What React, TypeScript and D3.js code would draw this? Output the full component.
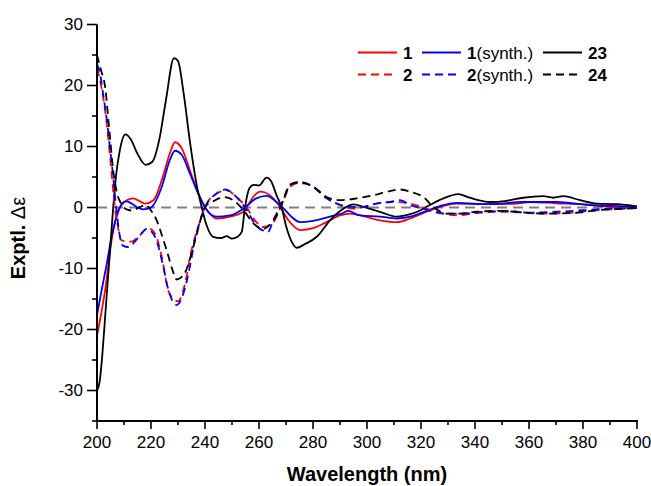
import React from 'react';
import * as d3 from 'd3';

// CD spectra: [wavelength nm, delta epsilon]
const cmp1: [number, number][] = [[200,-21],[201.5,-17.5],[203,-13.6],[205.4,-5.4],[207.9,-0.4],[209.5,0.6],[211,1.2],[213.5,1.5],[215.5,1.1],[217.8,0.65],[220.9,1.2],[224,4.5],[227,8.9],[228.9,10.7],[231.4,9.7],[234.4,6.1],[237.5,2.3],[240,0.1],[244.3,-1.8],[249.3,-1.5],[254.2,-0.7],[255.4,0],[258,1.8],[260.4,2.6],[262,2.5],[264,2.0],[267.8,0.1],[270.9,-2.1],[275.2,-3.7],[280,-3.4],[285,-2.4],[290,-1.3],[293.7,-1.0],[298.6,-1.4],[304.8,-2.1],[311,-2.4],[316,-1.8],[322,-0.7],[327,0.1],[333.2,0.65],[343,0.55],[355.4,0.65],[360.4,0.9],[370,0.7],[380,0.55],[390,0.1],[400,-0.1]];
const cmp1Synth: [number, number][] = [[200,-17.6],[201.7,-13.6],[203.5,-9.5],[205.4,-4.8],[207.5,-1.2],[209.8,0.9],[211,1.0],[213,0.6],[215,0.0],[217.2,-0.3],[220,0],[224,3.4],[227,7.8],[228.9,9.3],[231.4,8.6],[234.4,5.6],[237.5,2.3],[240,0],[244.3,-1.5],[249.3,-1.3],[254.2,-0.2],[259,1.5],[262.8,1.9],[266.5,0.9],[269,-0.1],[271.5,-1.3],[275.2,-2.4],[280,-2.2],[286.3,-1.5],[291.2,-0.9],[293,-0.55],[297.4,-1.3],[304.8,-1.5],[311,-1.8],[316,-1.5],[322,-0.55],[328.3,0.4],[333.2,0.75],[345.6,0.55],[357.9,0.9],[370,0.9],[382.6,0.4],[395,0.2],[400,0.1]];
const cmp23: [number, number][] = [[200,-30],[201,-28.5],[202,-24],[203,-18],[204,-12],[205,-6],[206,0],[207,5],[208.5,9.5],[210.5,12],[212.5,11.2],[215,8.8],[218,7],[220.5,7.5],[223,11],[225.5,17.5],[228.5,24.5],[230,24],[232,19],[234.5,10.5],[237,3.5],[238.8,0],[240.5,-2.8],[243,-4.8],[246,-5.0],[248,-4.7],[250,-5.1],[252,-4.8],[253.6,-4],[254.8,0],[256.5,3.2],[258,3.7],[260,3.6],[262.8,4.9],[264.5,4.3],[266.5,2],[268.4,0],[270,-3],[272,-5.5],[274,-6.6],[277,-6],[281.4,-4.8],[286.3,-2.1],[291.2,-0.2],[295,0.5],[298.6,0.1],[304.8,-0.7],[311,-1.5],[316,-1.1],[320,-0.4],[323.3,0.4],[328.3,1.5],[333.8,2.2],[338,1.6],[345.6,0.9],[351.7,1.1],[357.9,1.6],[365.3,1.85],[369,1.6],[372.7,1.85],[378.9,1.2],[385,0.65],[392.5,0.55],[400,0.2]];
const cmp2: [number, number][] = [[200,22.8],[201.1,20.9],[203.6,13.8],[205.4,5.6],[206.5,0.5],[207.5,-2.5],[209.1,-5.4],[212.8,-5.6],[215.3,-4.8],[219,-3.4],[221.5,-4.3],[224,-8.1],[226.4,-13.6],[228.9,-15.2],[230,-15.4],[232.6,-12.5],[235,-7],[237.5,-3.2],[240,0.1],[244.3,2.3],[248,2.8],[251.7,1.7],[255.4,0],[259,-2.4],[261.6,-3.2],[265.3,-2.4],[268.4,0.4],[271.5,3.4],[274.6,4.0],[278.9,3.7],[282.6,2.6],[286.3,1.2],[290,0.4],[295,-0.2],[298.6,0.1],[303.6,0.65],[309.7,0.9],[316,0.65],[322,-0.2],[328.3,-1.0],[333.2,-1.3],[340.6,-0.9],[349,-0.7],[357.9,-0.85],[364,-1.0],[374,-0.9],[385,-0.45],[395,-0.2],[400,-0.1]];
const cmp2Synth: [number, number][] = [[200,23.5],[201.1,22],[202.3,18.5],[203.6,14.5],[205,9],[206,5],[206.7,1.7],[207.5,-1.5],[208.5,-4.8],[209.7,-6.3],[211.6,-6.5],[214,-5.6],[216,-4.5],[218.4,-3.5],[221.5,-4.8],[224,-8.6],[226.5,-13.6],[229.5,-16],[232,-14.1],[234.4,-9.7],[236.2,-5.4],[238.7,-1.5],[240,0],[244.3,2.3],[247.4,2.95],[251.7,1.7],[255.4,-0.4],[259,-3.0],[261.6,-3.8],[263.3,-4.0],[265.3,-2.1],[268.4,0.7],[272,3.9],[275.2,4.2],[280,3.4],[285,1.5],[288.8,0.65],[293.7,0.1],[298.6,0.1],[303.6,0.65],[308.5,0.9],[312.2,1.2],[316,0.4],[320.9,-0.2],[328.3,-1.0],[335.6,-1.0],[343,-0.7],[351.7,-0.55],[360.4,-0.85],[370,-0.7],[380,-0.45],[390,-0.2],[400,-0.1]];
const cmp24: [number, number][] = [[200,25],[201.5,22.5],[203,19.8],[204.5,13],[206,6.1],[207.5,2.2],[209,0.6],[211.5,-0.4],[213,-0.5],[216,0.1],[218,0.4],[220,-0.5],[222,-2],[224,-4.5],[226,-7.3],[228,-10.3],[229.5,-11.8],[231,-11.5],[233,-10.3],[235,-7.5],[237,-4.3],[240,0.1],[243,1.0],[246.8,1.7],[250.4,1.2],[254.2,-0.4],[257.9,-2.6],[261.6,-3.5],[265.3,-2.1],[267.8,-0.2],[271.5,3.7],[275.2,4.1],[280,3.4],[285,1.7],[290,1.2],[296.2,1.5],[302.3,2.0],[308.5,2.7],[312.2,2.95],[316,2.6],[320.9,1.7],[324.6,0.1],[329.5,-1.0],[334.4,-1.0],[340.6,-0.7],[348,-0.55],[357.9,-0.8],[366.5,-1.0],[376.4,-0.9],[385,-0.45],[395,-0.2],[400,-0.1]];

const xMajor = [200, 220, 240, 260, 280, 300, 320, 340, 360, 380, 400];
const yMajor = [-30, -20, -10, 0, 10, 20, 30];

const series = [
  { name: '1', suffix: '', data: cmp1, color: '#ff0000', dash: null },
  { name: '1', suffix: '(synth.)', data: cmp1Synth, color: '#0000ff', dash: null },
  { name: '23', suffix: '', data: cmp23, color: '#000000', dash: null },
  { name: '2', suffix: '', data: cmp2, color: '#ff0000', dash: '8,5' },
  { name: '2', suffix: '(synth.)', data: cmp2Synth, color: '#0000ff', dash: '8,5' },
  { name: '24', suffix: '', data: cmp24, color: '#000000', dash: '8,5' },
];

const W = 651, H = 486;
const left = 97, right = 637, top = 24.5, bottom = 421;

export default function App() {
  const x = d3.scaleLinear().domain([200, 400]).range([left, right]);
  const y = d3.scaleLinear().domain([-35, 30]).range([bottom, top]);
  const line = d3.line<[number, number]>()
    .x(d => x(d[0]))
    .y(d => y(d[1]))
    .curve(d3.curveMonotoneX);

  const xMinor = d3.range(210, 400, 20);
  const yMinor = d3.range(-35, 30, 10);
  const font = 'Arial, "Liberation Sans", sans-serif';

  // legend slots (3 columns x 2 rows)
  const legX = [358, 422, 543];
  const legY = [52.5, 74.5];

  return (
    <svg width={W} height={H} style={{ position: 'absolute', left: 0, top: 0, background: '#fff' }} fontFamily={font}>
      {/* zero line */}
      <line x1={x(200)} x2={x(400)} y1={y(0)} y2={y(0)} stroke="#808080" strokeWidth={2} strokeDasharray="10,6" />

      {series.map((s, i) => (
        <path key={i} d={line(s.data) || ''} fill="none" stroke={s.color} strokeWidth={1.8}
          strokeDasharray={s.dash || undefined} />
      ))}

      {/* axes */}
      <line x1={left} x2={left} y1={top} y2={bottom} stroke="#000" strokeWidth={2} />
      <line x1={left - 1} x2={right + 1} y1={bottom} y2={bottom} stroke="#000" strokeWidth={2} />
      {yMajor.map(v => (
        <g key={v}>
          <line x1={left - 10} x2={left} y1={y(v)} y2={y(v)} stroke="#000" strokeWidth={1.6} />
          <text x={left - 14} y={y(v)} dy="0.35em" textAnchor="end" fontSize={17}>{String(v)}</text>
        </g>
      ))}
      {yMinor.map(v => (
        <line key={v} x1={left - 5} x2={left} y1={y(v)} y2={y(v)} stroke="#000" strokeWidth={1.6} />
      ))}
      {xMajor.map(v => (
        <g key={v}>
          <line x1={x(v)} x2={x(v)} y1={bottom} y2={bottom + 8} stroke="#000" strokeWidth={1.6} />
          <text x={x(v)} y={448} textAnchor="middle" fontSize={17}>{v}</text>
        </g>
      ))}
      {xMinor.map(v => (
        <line key={v} x1={x(v)} x2={x(v)} y1={bottom} y2={bottom + 4} stroke="#000" strokeWidth={1.6} />
      ))}

      <text x={367} y={481} textAnchor="middle" fontSize={20} fontWeight="bold">Wavelength (nm)</text>
      <text transform={`translate(25,238) rotate(-90)`} textAnchor="middle" fontSize={20}>
        <tspan fontWeight="bold">Exptl. </tspan><tspan>Δε</tspan>
      </text>

      {/* legend */}
      {series.map((s, i) => {
        const cx = legX[i % 3], cy = legY[Math.floor(i / 3)];
        return (
          <g key={'l' + i}>
            <line x1={cx} x2={cx + 39} y1={cy} y2={cy} stroke={s.color} strokeWidth={1.8}
              strokeDasharray={s.dash || undefined} />
            <text x={cx + 45} y={cy + 6} fontSize={17}>
              <tspan fontWeight="bold">{s.name}</tspan>
              {s.suffix && <tspan>{s.suffix}</tspan>}
            </text>
          </g>
        );
      })}
    </svg>
  );
}
